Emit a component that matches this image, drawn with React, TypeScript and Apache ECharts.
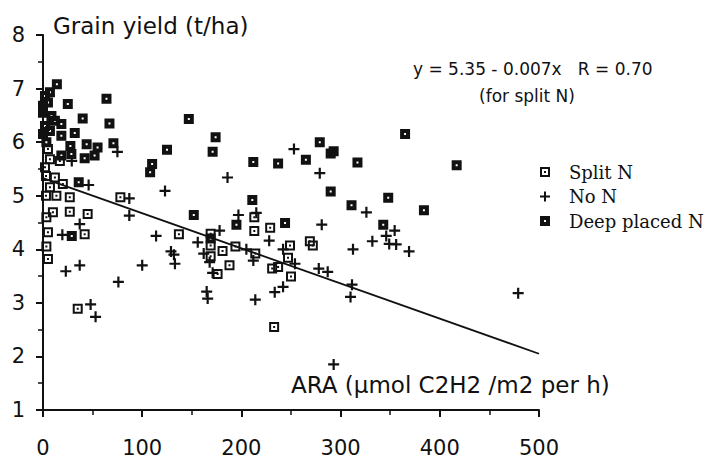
import React, { useEffect, useRef } from "react";
import * as echarts from "echarts";

const xTicks = [0, 100, 200, 300, 400, 500];
const yTicks = [1, 2, 3, 4, 5, 6, 7, 8];

const splitN: number[][] = [
  [5, 5.87], [7, 5.68], [17, 5.65], [2, 5.53], [3, 5.37], [12, 5.34], [20, 5.22], [7, 5.16],
  [3, 5.0], [13.5, 5.0], [27, 4.97], [78, 4.97], [10, 4.69], [27, 4.7], [45, 4.66], [3.4, 4.6],
  [5, 4.32], [42, 4.28], [3.4, 4.05], [5, 3.82], [35, 2.89], [137, 4.28], [169, 4.29], [169, 4.07],
  [169, 3.87], [181, 3.97], [188, 3.7], [176, 3.54], [194, 4.05], [214, 3.92], [213, 4.6], [213, 4.34],
  [229, 4.4], [249, 4.07], [247, 3.84], [269, 4.15], [272, 4.07], [231, 3.64], [237, 3.67], [250, 3.49],
  [233, 2.55],
];

const noN: number[][] = [
  [29, 5.65], [75, 5.82], [46, 5.2], [87, 4.95], [87, 4.63], [37, 4.47], [19.5, 4.27], [23, 3.59],
  [37, 3.7], [76, 3.39], [48, 2.97], [53, 2.74], [123, 5.09], [186, 5.34], [197, 4.64], [215, 4.68],
  [114, 4.25], [156, 4.13], [178, 4.35], [162, 3.92], [168, 3.76], [171, 3.56], [205, 4.0], [212, 3.79],
  [129, 3.96], [132, 3.9], [133, 3.73], [100, 3.7], [165, 3.21], [166, 3.08], [214, 3.06], [253, 5.87],
  [279, 5.42], [326, 4.69], [354.5, 4.35], [281, 4.46], [228, 4.16], [242, 4.0], [332, 4.15], [346, 4.25],
  [349, 4.1], [356, 4.09], [369, 3.96], [312.5, 4.0], [254, 3.73], [278, 3.64], [287, 3.58], [311.5, 3.34],
  [310, 3.11], [242, 3.3], [233.6, 3.2], [293, 1.85], [479, 3.18],
];

const deepN: number[][] = [
  [14, 7.08], [2, 6.86], [7, 6.93], [0, 6.68], [5, 6.74], [25, 6.71], [64, 6.81], [0, 6.55],
  [8.5, 6.49], [40, 6.44], [67, 6.35], [18.5, 6.34], [2, 6.3], [12, 6.4], [7, 6.21], [32, 6.17],
  [18.5, 6.12], [0, 6.15], [3.4, 6.0], [44, 5.96], [55, 5.9], [71, 5.98], [27.6, 5.93], [28.6, 5.78],
  [18.5, 5.75], [42, 5.7], [52, 5.75], [36, 5.25], [29, 4.25], [147, 6.43], [174, 6.09], [171, 5.82],
  [125, 5.86], [110, 5.59], [108, 5.44], [212, 5.63], [152, 4.64], [211, 4.92], [195, 4.46], [169, 4.2],
  [279, 6.0], [293, 5.83], [290, 5.79], [265, 5.67], [237, 5.6], [317, 5.62], [365, 6.15], [290, 5.08],
  [311, 4.82], [348, 4.96], [343, 4.46], [244, 4.49], [417, 5.57], [384, 4.73],
];

const regX = [0, 500];
const regY = [5.33, 2.05];

const seriesNames = ["Split N", "No N", "Deep placed N"];
const titleText = "Grain yield (t/ha)";
const xName = "ARA (\u00b5mol C2H2 /m2 per h)";
const eqText = "y = 5.35 - 0.007x   R = 0.70";
const eqSub = "(for split N)";

const SPLIT_ICON = "path://M0,0H10V10H0Z M2,2V8H8V2Z M4,4H6V6H4Z";
const DEEP_ICON = "path://M0,0H10V10H0Z M4,4V6H6V4Z";
const PLUS_ICON = "path://M4,0H6V4H10V6H6V10H4V6H0V4H4Z";

export default function App() {
  const ref = useRef<HTMLDivElement>(null);
  useEffect(() => {
    document.body.style.margin = "0";
    if (!ref.current) return;
    const chart = echarts.init(ref.current, undefined, { renderer: "svg" });
    const ink = "#111";
    const sans = '"DejaVu Sans", sans-serif';
    chart.setOption({
      animation: false,
      backgroundColor: "#fff",
      grid: { left: 43, right: 170, top: 35, bottom: 46, containLabel: false },
      xAxis: {
        type: "value",
        min: xTicks[0],
        max: xTicks[xTicks.length - 1],
        interval: 100,
        axisLine: { show: true, onZero: false, lineStyle: { color: ink, width: 2 } },
        axisTick: { show: true, inside: false, length: 7, lineStyle: { color: ink, width: 2 } },
        minorTick: { show: true, splitNumber: 2, length: 5, lineStyle: { color: ink, width: 1.5 } },
        splitLine: { show: false },
        axisLabel: { color: ink, fontFamily: sans, fontSize: 21, margin: 27 },
      },
      yAxis: {
        type: "value",
        min: yTicks[0],
        max: yTicks[yTicks.length - 1],
        interval: 1,
        axisLine: { show: true, onZero: false, lineStyle: { color: ink, width: 2 } },
        axisTick: { show: true, inside: false, length: 7, lineStyle: { color: ink, width: 2 } },
        minorTick: { show: true, splitNumber: 2, length: 5, lineStyle: { color: ink, width: 1.5 } },
        splitLine: { show: false },
        axisLabel: { color: ink, fontFamily: sans, fontSize: 21, margin: 18 },
      },
      legend: {
        orient: "vertical",
        left: 535,
        top: 158,
        itemWidth: 10,
        itemHeight: 10,
        itemGap: 6.5,
        data: [
          { name: seriesNames[0], icon: SPLIT_ICON },
          { name: seriesNames[1], icon: PLUS_ICON },
          { name: seriesNames[2], icon: DEEP_ICON },
        ],
        textStyle: {
          color: ink,
          fontFamily: '"DejaVu Serif", serif',
          fontSize: 18,
          lineHeight: 18,
          padding: [0, 0, 0, 14],
        },
      },
      series: [
        {
          type: "line",
          data: regX.map((x, i) => [x, regY[i]]),
          symbol: "none",
          lineStyle: { color: ink, width: 1.8 },
          z: 1,
          silent: true,
        },
        {
          name: seriesNames[0],
          type: "scatter",
          data: splitN,
          symbol: SPLIT_ICON,
          symbolSize: 10,
          itemStyle: { color: ink, opacity: 1 },
          z: 3,
        },
        {
          name: seriesNames[1],
          type: "scatter",
          data: noN,
          symbol: PLUS_ICON,
          symbolSize: 11,
          itemStyle: { color: ink, opacity: 1 },
          z: 3,
        },
        {
          name: seriesNames[2],
          type: "scatter",
          data: deepN,
          symbol: DEEP_ICON,
          symbolSize: 10,
          itemStyle: { color: ink, opacity: 1 },
          z: 4,
        },
      ],
      graphic: [
        {
          type: "text",
          x: 53,
          y: 26,
          style: { text: titleText, font: `23px ${sans}`, fill: ink, align: "left", verticalAlign: "middle" },
        },
        {
          type: "text",
          x: 413,
          y: 69,
          style: { text: eqText, font: `17px ${sans}`, fill: ink, align: "left", verticalAlign: "middle" },
        },
        {
          type: "text",
          x: 527,
          y: 96,
          style: { text: eqSub, font: `17px ${sans}`, fill: ink, align: "center", verticalAlign: "middle" },
        },
        {
          type: "text",
          x: 291,
          y: 385,
          style: { text: xName, font: `23px ${sans}`, fill: ink, align: "left", verticalAlign: "middle" },
        },
      ],
    });
    return () => chart.dispose();
  }, []);
  return <div ref={ref} style={{ width: 709, height: 458 }} />;
}
